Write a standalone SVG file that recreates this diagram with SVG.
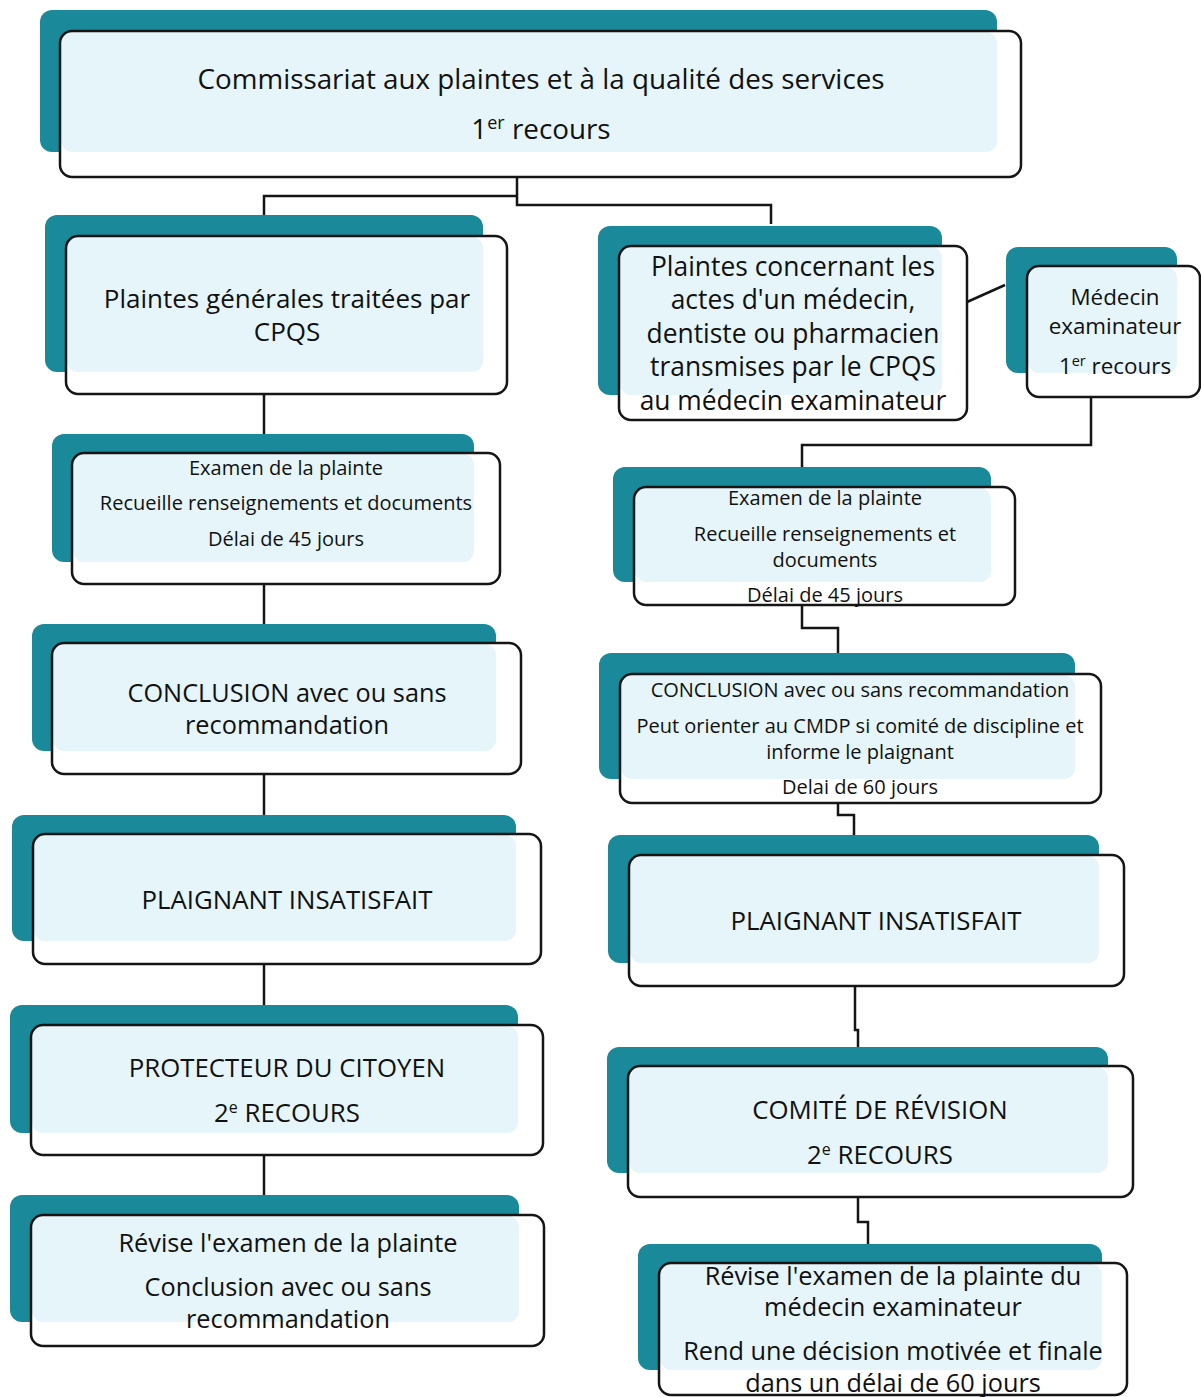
<svg xmlns="http://www.w3.org/2000/svg" width="1201" height="1397" viewBox="0 0 1201 1397">
<style>
.bg{fill:#ffffff}
.back{fill:#1a8a9b}
.front{fill:#ffffff}
.tint{fill:#e5f5f9}
.edge{fill:none;stroke:#151515;stroke-width:2.5}
.conn{fill:none;stroke:#151515;stroke-width:2.5}
text{font-family:"Open Sans","Noto Sans","DejaVu Sans",sans-serif;fill:#111;text-anchor:middle}
.t28{font-size:27.8px}
.t27{font-size:26px}
.t26{font-size:26.4px}
.t25{font-size:25.3px}
.tcap{font-size:25.8px}
.t20{font-size:20px}
.t23{font-size:22.4px}
</style>
<rect class="bg" x="0" y="0" width="1201" height="1397"/>

<g id="connectors">
  <path class="conn" d="M517 177 V205 H771 V224"/>
  <path class="conn" d="M517 196 H264 V215"/>
  <path class="conn" d="M967 302 L1005 285"/>
  <path class="conn" d="M1091 397 V445 H802 V467"/>
  <path class="conn" d="M264 394 V434"/>
  <path class="conn" d="M264 584 V624"/>
  <path class="conn" d="M264 774 V815"/>
  <path class="conn" d="M264 964 V1005"/>
  <path class="conn" d="M264 1155 V1195"/>
  <path class="conn" d="M802 605 V628 H838 V653"/>
  <path class="conn" d="M838 803 V815 H854 V835"/>
  <path class="conn" d="M855 986 V1030 H858 V1047"/>
  <path class="conn" d="M858 1197 V1222 H868 V1244"/>
</g>

<g id="n-cpqs">
  <rect class="back" x="40" y="10" width="957" height="142" rx="12"/>
  <rect class="front" x="60" y="31" width="961" height="146" rx="12"/>
  <rect class="tint" x="61" y="32" width="936" height="120" rx="11"/>
  <rect class="edge" x="60" y="31" width="961" height="146" rx="12"/>
  <text class="t28" x="541" y="89">Commissariat aux plaintes et à la qualité des services</text>
  <text class="t28" x="541" y="139">1<tspan font-size="18" dy="-10">er</tspan><tspan dy="10"> recours</tspan></text>
</g>

<g id="n-generales">
  <rect class="back" x="45" y="215" width="438" height="157" rx="12"/>
  <rect class="front" x="66" y="236" width="441" height="158" rx="12"/>
  <rect class="tint" x="67" y="237" width="416" height="135" rx="11"/>
  <rect class="edge" x="66" y="236" width="441" height="158" rx="12"/>
  <text class="t27" x="287" y="308">Plaintes générales traitées par</text>
  <text class="t27" x="287" y="341">CPQS</text>
</g>

<g id="n-medecin-actes">
  <rect class="back" x="598" y="226" width="344" height="169" rx="12"/>
  <rect class="front" x="619" y="246" width="348" height="174" rx="12"/>
  <rect class="tint" x="620" y="247" width="322" height="148" rx="11"/>
  <rect class="edge" x="619" y="246" width="348" height="174" rx="12"/>
  <text class="t26" x="793" y="276">Plaintes concernant les</text>
  <text class="t26" x="793" y="309">actes d'un médecin,</text>
  <text class="t26" x="793" y="343">dentiste ou pharmacien</text>
  <text class="t26" x="793" y="376">transmises par le CPQS</text>
  <text class="t26" x="793" y="410">au médecin examinateur</text>
</g>

<g id="n-medecin-examinateur">
  <rect class="back" x="1006" y="247" width="171" height="126" rx="12"/>
  <rect class="front" x="1027" y="266" width="173" height="131" rx="12"/>
  <rect class="tint" x="1028" y="267" width="149" height="106" rx="11"/>
  <rect class="edge" x="1027" y="266" width="173" height="131" rx="12"/>
  <text class="t23" x="1115" y="305">Médecin</text>
  <text class="t23" x="1115" y="334">examinateur</text>
  <text class="t23" x="1115" y="374">1<tspan font-size="14.5" dy="-8">er</tspan><tspan dy="8"> recours</tspan></text>
</g>

<g id="n-examen-gauche">
  <rect class="back" x="52" y="434" width="422" height="128" rx="12"/>
  <rect class="front" x="72" y="453" width="428" height="131" rx="12"/>
  <rect class="tint" x="73" y="454" width="401" height="108" rx="11"/>
  <rect class="edge" x="72" y="453" width="428" height="131" rx="12"/>
  <text class="t20" x="286" y="475">Examen de la plainte</text>
  <text class="t20" x="286" y="510">Recueille renseignements et documents</text>
  <text class="t20" x="286" y="546">Délai de 45 jours</text>
</g>

<g id="n-conclusion-gauche">
  <rect class="back" x="32" y="624" width="464" height="127" rx="12"/>
  <rect class="front" x="52" y="643" width="469" height="131" rx="12"/>
  <rect class="tint" x="53" y="644" width="443" height="107" rx="11"/>
  <rect class="edge" x="52" y="643" width="469" height="131" rx="12"/>
  <text class="t25" x="287" y="702">CONCLUSION avec ou sans</text>
  <text class="t25" x="287" y="734">recommandation</text>
</g>

<g id="n-insatisfait-gauche">
  <rect class="back" x="12" y="815" width="504" height="126" rx="12"/>
  <rect class="front" x="33" y="834" width="508" height="130" rx="12"/>
  <rect class="tint" x="34" y="835" width="482" height="106" rx="11"/>
  <rect class="edge" x="33" y="834" width="508" height="130" rx="12"/>
  <text class="tcap" x="287" y="909">PLAIGNANT INSATISFAIT</text>
</g>

<g id="n-protecteur">
  <rect class="back" x="10" y="1005" width="508" height="128" rx="12"/>
  <rect class="front" x="31" y="1025" width="512" height="130" rx="12"/>
  <rect class="tint" x="32" y="1026" width="486" height="107" rx="11"/>
  <rect class="edge" x="31" y="1025" width="512" height="130" rx="12"/>
  <text class="tcap" x="287" y="1077">PROTECTEUR DU CITOYEN</text>
  <text class="tcap" x="287" y="1122">2<tspan font-size="16" dy="-9">e</tspan><tspan dy="9"> RECOURS</tspan></text>
</g>

<g id="n-revise-gauche">
  <rect class="back" x="10" y="1195" width="509" height="127" rx="12"/>
  <rect class="front" x="31" y="1215" width="513" height="131" rx="12"/>
  <rect class="tint" x="32" y="1216" width="487" height="106" rx="11"/>
  <rect class="edge" x="31" y="1215" width="513" height="131" rx="12"/>
  <text class="t25" x="288" y="1252">Révise l'examen de la plainte</text>
  <text class="t25" x="288" y="1296">Conclusion avec ou sans</text>
  <text class="t25" x="288" y="1328">recommandation</text>
</g>

<g id="n-examen-droite">
  <rect class="back" x="613" y="467" width="378" height="115" rx="12"/>
  <rect class="front" x="634" y="487" width="381" height="118" rx="12"/>
  <rect class="tint" x="635" y="488" width="356" height="94" rx="11"/>
  <rect class="edge" x="634" y="487" width="381" height="118" rx="12"/>
  <text class="t20" x="825" y="505">Examen de la plainte</text>
  <text class="t20" x="825" y="541">Recueille renseignements et</text>
  <text class="t20" x="825" y="567">documents</text>
  <text class="t20" x="825" y="602">Délai de 45 jours</text>
</g>

<g id="n-conclusion-droite">
  <rect class="back" x="599" y="653" width="476" height="126" rx="12"/>
  <rect class="front" x="620" y="674" width="481" height="129" rx="12"/>
  <rect class="tint" x="621" y="675" width="454" height="104" rx="11"/>
  <rect class="edge" x="620" y="674" width="481" height="129" rx="12"/>
  <text class="t20" x="860" y="697">CONCLUSION avec ou sans recommandation</text>
  <text class="t20" x="860" y="733">Peut orienter au CMDP si comité de discipline et</text>
  <text class="t20" x="860" y="759">informe le plaignant</text>
  <text class="t20" x="860" y="794">Delai de 60 jours</text>
</g>

<g id="n-insatisfait-droite">
  <rect class="back" x="608" y="835" width="491" height="128" rx="12"/>
  <rect class="front" x="629" y="855" width="495" height="131" rx="12"/>
  <rect class="tint" x="630" y="856" width="469" height="107" rx="11"/>
  <rect class="edge" x="629" y="855" width="495" height="131" rx="12"/>
  <text class="tcap" x="876" y="930">PLAIGNANT INSATISFAIT</text>
</g>

<g id="n-comite">
  <rect class="back" x="607" y="1047" width="501" height="126" rx="12"/>
  <rect class="front" x="628" y="1066" width="505" height="131" rx="12"/>
  <rect class="tint" x="629" y="1067" width="479" height="106" rx="11"/>
  <rect class="edge" x="628" y="1066" width="505" height="131" rx="12"/>
  <text class="tcap" x="880" y="1119">COMITÉ DE RÉVISION</text>
  <text class="tcap" x="880" y="1164">2<tspan font-size="16" dy="-9">e</tspan><tspan dy="9"> RECOURS</tspan></text>
</g>

<g id="n-revise-droite">
  <rect class="back" x="638" y="1244" width="464" height="126" rx="12"/>
  <rect class="front" x="659" y="1263" width="468" height="132" rx="12"/>
  <rect class="tint" x="660" y="1264" width="442" height="106" rx="11"/>
  <rect class="edge" x="659" y="1263" width="468" height="132" rx="12"/>
  <text class="t25" x="893" y="1285">Révise l'examen de la plainte du</text>
  <text class="t25" x="893" y="1316">médecin examinateur</text>
  <text class="t25" x="893" y="1360">Rend une décision motivée et finale</text>
  <text class="t25" x="893" y="1392">dans un délai de 60 jours</text>
</g>
</svg>
